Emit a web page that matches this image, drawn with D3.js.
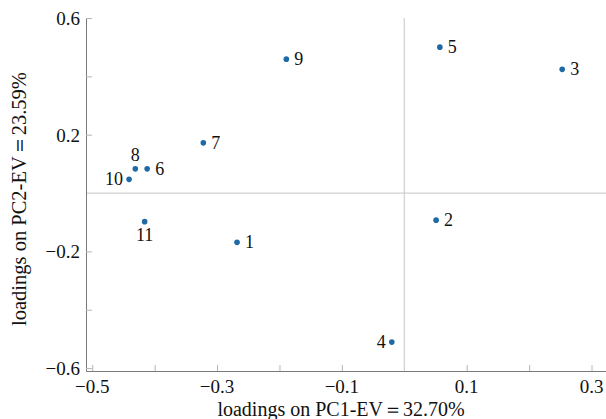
<!DOCTYPE html>
<html>
<head>
<meta charset="utf-8">
<script src="https://cdn.jsdelivr.net/npm/d3@7/dist/d3.min.js"></script>
<style>
  html, body { margin: 0; padding: 0; background: #fff; }
  svg { display: block; }
  svg text { font-family: "Liberation Serif", "Times New Roman", serif; }
</style>
</head>
<body>
<svg id="chart" width="606" height="419"></svg>
<script>
// PCA loadings for eleven variables
const variableIds = ["1", "2", "3", "4", "5", "6", "7", "8", "9", "10", "11"];
const pc1Loadings = [-0.268, 0.051, 0.253, -0.020, 0.057, -0.412, -0.322, -0.431, -0.189, -0.441, -0.416];
const pc2Loadings = [-0.169, -0.093, 0.424, -0.511, 0.500, 0.083, 0.172, 0.083, 0.459, 0.047, -0.098];

const xTickValues = [-0.5, -0.3, -0.1, 0.1, 0.3];
const xMinorTicks = [-0.5, -0.4, -0.3, -0.2, -0.1, 0.1, 0.2, 0.3];
const yTickValues = [-0.6, -0.2, 0.2, 0.6];
const yMinorTicks = [-0.6, -0.4, -0.2, 0.2, 0.4, 0.6];

const xTitle = "loadings on PC1-EV\uFF1D32.70%";
const yTitle = "loadings on PC2-EV\uFF1D23.59%";

const points = variableIds.map((id, i) => ({ id, x: pc1Loadings[i], y: pc2Loadings[i] }));

const svg = d3.select("#chart");
const plotLeft = 86, plotRight = 606, plotTop = 18, plotBottom = 371;

const x = d3.scaleLinear().domain([-0.51, 0.3232]).range([plotLeft, plotRight]);
const y = d3.scaleLinear().domain([-0.61, 0.6]).range([plotBottom, plotTop]);

const serif = '"Liberation Serif", "Times New Roman", serif';
const axisColor = "#7a7a7a";
const gridColor = "#cfcfcf";
const fmt = v => d3.format(".1f")(v).replace("-", "\u2212");

// zero reference lines
svg.append("line")
  .attr("x1", plotLeft).attr("x2", plotRight)
  .attr("y1", y(0)).attr("y2", y(0))
  .attr("stroke", gridColor).attr("stroke-width", 1.2);
svg.append("line")
  .attr("x1", x(0)).attr("x2", x(0))
  .attr("y1", plotTop).attr("y2", plotBottom)
  .attr("stroke", gridColor).attr("stroke-width", 1.2);

// bottom axis: inward minor ticks, labels every 0.2
const gx = svg.append("g").attr("transform", `translate(0,${plotBottom})`);
gx.call(d3.axisBottom(x).tickValues(xMinorTicks).tickSizeInner(-6).tickSizeOuter(0).tickFormat(""));
gx.attr("font-family", serif);
gx.select(".domain").attr("stroke", axisColor);
gx.selectAll(".tick line").attr("stroke", "#b5b5b5");
gx.selectAll(".tick text").remove();
gx.selectAll(".xlab").data(xTickValues).join("text")
  .attr("class", "xlab")
  .attr("x", d => x(d)).attr("y", 22)
  .attr("text-anchor", "middle")
  .attr("font-size", 19).attr("fill", "#111")
  .text(fmt);

// left axis
const gy = svg.append("g").attr("transform", `translate(${plotLeft},0)`);
gy.call(d3.axisLeft(y).tickValues(yMinorTicks).tickSizeInner(-6).tickSizeOuter(0).tickFormat(""));
gy.attr("font-family", serif);
gy.select(".domain").attr("stroke", axisColor);
gy.selectAll(".tick line").attr("stroke", "#b5b5b5");
gy.selectAll(".tick text").remove();
gy.selectAll(".ylab").data(yTickValues).join("text")
  .attr("class", "ylab")
  .attr("x", -6).attr("y", d => y(d))
  .attr("dy", "0.36em")
  .attr("text-anchor", "end")
  .attr("font-size", 19).attr("fill", "#111")
  .text(fmt);

// axis titles
svg.append("text")
  .attr("x", 341).attr("y", 416)
  .attr("text-anchor", "middle")
  .attr("font-size", 20).attr("fill", "#111")
  .text(xTitle);
svg.append("text")
  .attr("transform", `translate(26,199) rotate(-90)`)
  .attr("text-anchor", "middle")
  .attr("font-size", 20.5).attr("fill", "#111")
  .text(yTitle);

// points
svg.append("g").selectAll("circle").data(points).join("circle")
  .attr("cx", d => x(d.x)).attr("cy", d => y(d.y))
  .attr("r", 2.8).attr("fill", "#1f6aa5");

// label placement around each point
const place = { "8": "above", "10": "left", "11": "below", "4": "left" };
svg.append("g").selectAll("text").data(points).join("text")
  .attr("font-size", 18).attr("fill", "#111")
  .each(function (d) {
    const p = place[d.id] || "right";
    const t = d3.select(this);
    const cx = x(d.x), cy = y(d.y);
    if (p === "right") t.attr("x", cx + 8).attr("y", cy).attr("dy", "0.34em").attr("text-anchor", "start");
    else if (p === "left") t.attr("x", cx - 6).attr("y", cy).attr("dy", "0.34em").attr("text-anchor", "end");
    else if (p === "above") t.attr("x", cx).attr("y", cy - 8).attr("text-anchor", "middle");
    else t.attr("x", cx).attr("y", cy + 19).attr("text-anchor", "middle");
  })
  .text(d => d.id);
</script>
</body>
</html>
